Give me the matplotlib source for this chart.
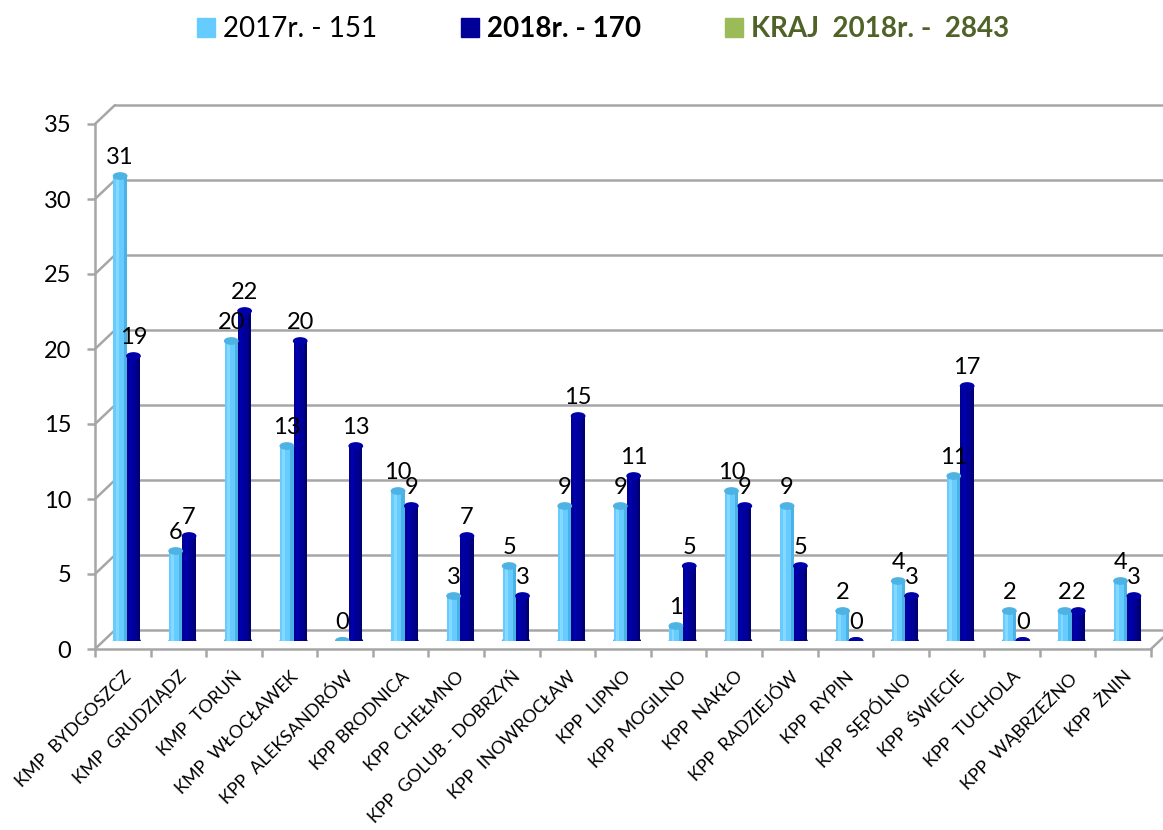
import matplotlib
matplotlib.use("Agg")
import matplotlib.pyplot as plt
from matplotlib.patches import Patch, Ellipse, ConnectionPatch

plt.rcParams['font.family'] = ['Lato', 'DejaVu Sans']

categories = ["KMP  BYDGOSZCZ", "KMP  GRUDZIĄDZ", "KMP  TORUŃ", "KMP  WŁOCŁAWEK",
              "KPP  ALEKSANDRÓW", "KPP BRODNICA", "KPP  CHEŁMNO", "KPP  GOLUB - DOBRZYŃ",
              "KPP  INOWROCŁAW", "KPP  LIPNO", "KPP  MOGILNO", "KPP  NAKŁO",
              "KPP  RADZIEJÓW", "KPP  RYPIN", "KPP  SĘPÓLNO", "KPP  ŚWIECIE",
              "KPP  TUCHOLA", "KPP  WĄBRZEŹNO", "KPP  ŻNIN"]
v2017 = [31, 6, 20, 13, 0, 10, 3, 5, 9, 9, 1, 10, 9, 2, 4, 11, 2, 2, 4]
v2018 = [19, 7, 22, 20, 13, 9, 7, 3, 15, 11, 5, 9, 5, 0, 3, 17, 0, 2, 3]
legend_labels = ["2017r. - 151", "2018r. - 170", "KRAJ  2018r. -  2843"]
yticks = [0, 5, 10, 15, 20, 25, 30, 35]

W, H = 1163, 830
fig = plt.figure(figsize=(W / 100, H / 100), dpi=100)

# front plane geometry (pixels)
fl, fr, fb, ft = 95, 1151, 649, 124
def rect(dx=0, dy=0):
    return [(fl + dx) / W, (H - fb + dy) / H, (fr - fl) / W, (fb - ft) / H]

grid_c = '#A6A6A6'
n = len(categories)

ax_back = fig.add_axes(rect(20, 19), zorder=0)
ax_front = fig.add_axes(rect(0, 0), zorder=1)
ax_bar = fig.add_axes(rect(4, 8), zorder=2)

for a in (ax_back, ax_front, ax_bar):
    a.set_xlim(0, n)
    a.set_ylim(0, 35)
    a.patch.set_alpha(0)

# back wall gridlines
ax_back.set_axis_off()
for t in yticks:
    ax_back.axhline(t, color=grid_c, lw=1.8, clip_on=False, xmax=1.2)

# front axis
for s in ('top', 'right'):
    ax_front.spines[s].set_visible(False)
for s in ('left', 'bottom'):
    ax_front.spines[s].set_color(grid_c)
    ax_front.spines[s].set_linewidth(1.8)
ax_front.set_yticks(yticks)
ax_front.set_yticklabels([str(t) for t in yticks], fontsize=17)
ax_front.tick_params(axis='y', length=6, width=1.8, color=grid_c, pad=11)
ax_front.set_xticks([i for i in range(n + 1)], minor=True)
ax_front.set_xticks([i + 0.5 for i in range(n)])
ax_front.set_xticklabels(categories, fontsize=13, rotation=45, ha='right',
                         rotation_mode='anchor')
ax_front.tick_params(axis='x', which='major', length=0, pad=14)
ax_front.tick_params(axis='x', which='minor', length=6, width=1.8, color=grid_c)

# connecting diagonals
for t in yticks:
    cp = ConnectionPatch(xyA=(0, t), coordsA=ax_front.transData,
                         xyB=(0, t), coordsB=ax_back.transData,
                         color=grid_c, lw=1.8)
    fig.add_artist(cp)
cp = ConnectionPatch(xyA=(n, 0), coordsA=ax_front.transData,
                     xyB=(n, 0), coordsB=ax_back.transData, color=grid_c, lw=1.8)
fig.add_artist(cp)

# bars (cylinders)
ax_bar.set_axis_off()
bw = 0.24
cap_h = 0.42
series = [
    (v2017, -bw / 2, '#66CCFF', '#85D8FF', '#4AB2E4', '#4EB3E3'),
    (v2018, bw / 2, '#000099', '#0000AD', '#000074', '#0000A8'),
]
for vals, off, body, light, dark, cap in series:
    xs = [i + 0.5 + off for i in range(n)]
    ax_bar.bar(xs, vals, width=bw, color=body, zorder=3)
    ax_bar.bar([x - bw * 0.22 for x in xs], vals, width=bw * 0.22, color=light, zorder=3.1)
    ax_bar.bar([x + bw * 0.38 for x in xs], vals, width=bw * 0.24, color=dark, zorder=3.1)
    for x, v in zip(xs, vals):
        ax_bar.add_patch(Ellipse((x, 0), bw, cap_h, color=dark, zorder=2.9))
        ax_bar.add_patch(Ellipse((x, v), bw, cap_h, color=cap, zorder=3.5))
        ax_bar.annotate(str(v), (x, v), xytext=(0, 6), textcoords='offset points',
                        ha='center', va='bottom', fontsize=17, color='black', zorder=5)

# legend
handles = [Patch(color='#66CCFF'), Patch(color='#000099'), Patch(color='#9BBB59')]
leg = fig.legend(handles, legend_labels, loc='center', bbox_to_anchor=(603 / W, 1 - 29 / H),
                 ncol=3, frameon=False, fontsize=20, handlelength=0.65, handleheight=0.65,
                 handletextpad=0.3, columnspacing=3.0)
txts = leg.get_texts()
txts[1].set_fontweight('bold')
txts[2].set_fontweight('bold')
txts[2].set_color('#4F6228')

fig.savefig('out.png', dpi=100)
